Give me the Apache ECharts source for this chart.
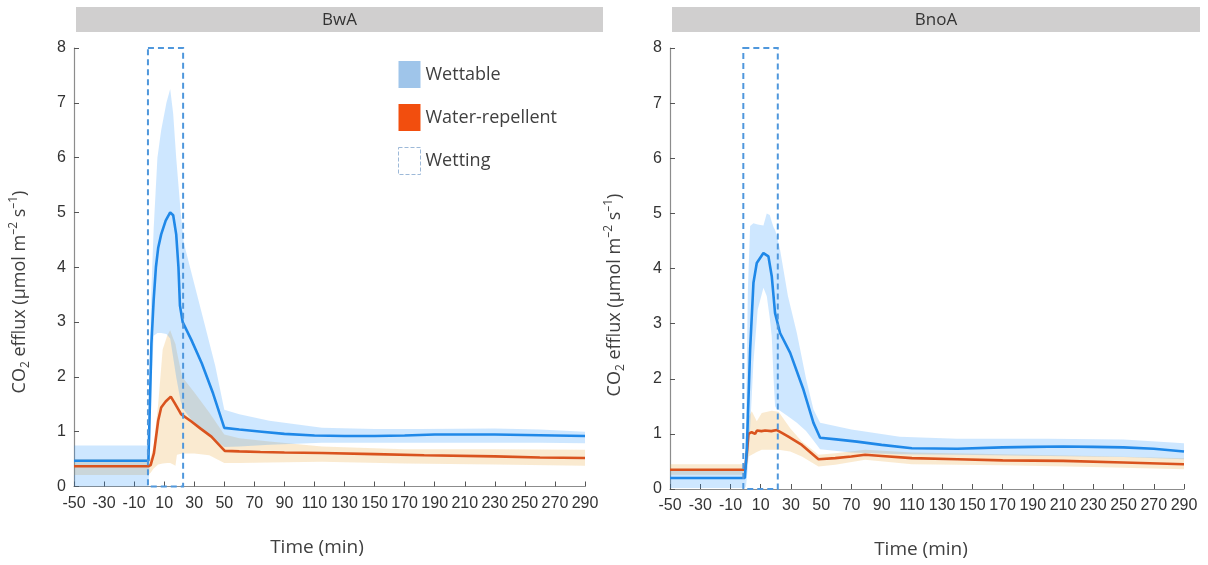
<!DOCTYPE html>
<html>
<head>
<meta charset="utf-8">
<script src="https://cdn.jsdelivr.net/npm/echarts@6/dist/echarts.min.js"></script>
<style>
  html, body { margin: 0; padding: 0; background: #fff; }
  #chart { width: 1208px; height: 565px; }
</style>
</head>
<body>
<div id="chart"></div>
<script>
// ---- BwA panel ----
const bwaWetT = [-50,-0.5,0.5,1.5,3,4.5,6,8,11,14,16,18,19.5,20.5,22.3,28,35,42.5,50,60,75,90,110,130,150,170,190,210,230,250,270,290];
const bwaWetMean = [0.47,0.47,1.5,2.6,3.4,4.0,4.35,4.6,4.85,5.0,4.95,4.6,4.0,3.3,3.0,2.68,2.25,1.70,1.07,1.04,1.0,0.96,0.93,0.92,0.92,0.93,0.95,0.95,0.95,0.94,0.93,0.92];
const bwaWetBandT = [-50,-0.5,0.5,1.5,3,5.5,8,11.5,14,16,18,21,23,30,37,44,50,60,80,115,150,180,230,260,290];
const bwaWetUpper = [0.75,0.75,2.5,3.6,4.7,6.0,6.5,7.0,7.25,6.8,6.0,5.0,4.45,3.7,2.95,2.2,1.4,1.32,1.2,1.07,1.05,1.05,1.06,1.04,1.0];
const bwaWetLower = [0,0,0.5,1.8,2.75,2.8,2.8,2.78,2.7,2.35,2.0,1.55,1.4,1.15,1.0,0.85,0.72,0.73,0.76,0.8,0.8,0.8,0.8,0.8,0.79];

const bwaRepT = [-50,-0.5,1,3.2,6,8,11,14.4,17,20,21.2,27.9,34,41.4,50.3,60,74,90,115,150,183,230,260,290];
const bwaRepMean = [0.37,0.37,0.39,0.61,1.2,1.44,1.55,1.64,1.52,1.38,1.32,1.19,1.06,0.91,0.65,0.64,0.63,0.62,0.61,0.59,0.57,0.55,0.53,0.52];
const bwaRepBandT = [-50,-0.5,1,3,6,9,12,14,16,17.5,18.5,22,30,40,50,60,80,115,170,230,290];
const bwaRepUpper = [0.5,0.5,0.52,0.75,1.5,2.5,2.75,2.85,2.7,2.6,2.45,2.0,1.72,1.35,0.95,0.88,0.82,0.73,0.68,0.68,0.67];
const bwaRepLower = [0.21,0.21,0.25,0.33,0.4,0.42,0.43,0.43,0.4,0.38,0.58,0.6,0.6,0.57,0.43,0.43,0.44,0.45,0.42,0.4,0.38];

const bwaWetting = [-0.8, 22.6];

// ---- BnoA panel ----
const bnoWetT = [-50,-0.5,0.8,3,5.2,7.4,11.8,15.1,17.3,19.5,22.8,29.5,38.3,44.9,49.3,60,73.6,90,110,140,170,190,210,230,250,270,290];
const bnoWetMean = [0.2,0.2,0.71,2.53,3.74,4.1,4.28,4.22,3.86,3.19,2.83,2.47,1.80,1.20,0.93,0.9,0.86,0.80,0.74,0.73,0.755,0.765,0.77,0.765,0.755,0.73,0.68];
const bnoWetBandT = [-50,-0.5,0.3,1.5,3,5.2,8,11.8,14,16,17.3,18.5,19.5,20.6,22.8,28,33.9,40,44.9,49.3,70,102,140,200,250,290];
const bnoWetUpper = [0.35,0.35,1.2,3.6,4.77,4.82,4.8,4.78,5.0,4.97,4.85,4.75,4.7,4.6,4.34,3.5,2.83,2.0,1.44,1.2,1.08,0.95,0.91,0.91,0.9,0.83];
const bnoWetLower = [0.02,0.02,0.05,0.4,1.1,2.3,3.25,3.65,3.5,3.1,2.77,2.0,1.5,1.45,1.42,1.32,1.2,1.05,0.88,0.72,0.66,0.63,0.62,0.6,0.58,0.54];

const bnoRepT = [-50,-0.3,1,1.9,4,6.3,7.5,8.5,10.5,12.9,17,20.7,24,28.3,37.2,48.2,59.3,70,79.1,90,110,140,170,210,250,290];
const bnoRepMean = [0.35,0.35,0.7,1.0,1.03,1.0,1.06,1.08,1.05,1.06,1.05,1.07,1.02,0.95,0.80,0.54,0.56,0.59,0.62,0.6,0.56,0.54,0.52,0.51,0.48,0.45];
const bnoRepBandT = [-50,-0.3,1,1.9,4.1,7.4,10.7,17.3,21.8,29.5,37.2,48.2,59.3,79.1,110,170,230,290];
const bnoRepUpper = [0.45,0.45,1.0,1.3,1.41,1.23,1.38,1.42,1.4,1.1,0.86,0.62,0.65,0.71,0.66,0.63,0.6,0.56];
const bnoRepLower = [0.26,0.26,0.4,0.59,0.62,0.67,0.71,0.71,0.71,0.68,0.59,0.41,0.44,0.53,0.45,0.43,0.40,0.36];

const bnoWetting = [-1.5, 21.3];

const panelTitles = ['BwA', 'BnoA'];
const seriesNames = ['Wettable', 'Water-repellent', 'Wetting'];

// ---- styling ----
const BLUE_LINE = '#1f88e8';
const ORANGE_LINE = '#d9531e';
const BLUE_FILL = 'rgba(30,144,255,0.22)';
const ORANGE_FILL = 'rgba(230,160,40,0.22)';
const DASH_COLOR = '#4f97dc';
const TEXT_COLOR = '#404040';
const AXIS_COLOR = '#8c8c8c';

const zip = (t, v) => t.map((x, i) => [x, v[i]]);

// shaded spread between a lower and an upper curve
function band(name, idx, t, up, lo, fill, z) {
  return {
    type: 'custom', name, xAxisIndex: idx, yAxisIndex: idx, z, silent: true,
    itemStyle: { color: fill },
    data: [[t[0], lo[0]]],
    renderItem(params, api) {
      const pts = [];
      for (let i = 0; i < t.length; i++) pts.push(api.coord([t[i], up[i]]));
      for (let i = t.length - 1; i >= 0; i--) pts.push(api.coord([t[i], lo[i]]));
      return { type: 'polygon', shape: { points: pts }, style: { fill } };
    }
  };
}

function meanLine(name, idx, t, v, color, z) {
  return {
    type: 'line', name, xAxisIndex: idx, yAxisIndex: idx, z, silent: true,
    data: zip(t, v), showSymbol: false, symbol: 'none',
    lineStyle: { color, width: 2.6 }, itemStyle: { color }
  };
}

// dashed frame marking the wetting period
function wettingBox(idx, win) {
  return {
    type: 'custom', name: 'Wetting', xAxisIndex: idx, yAxisIndex: idx, z: 6, silent: true,
    data: [[win[0], 0, win[1], 8]],
    renderItem(params, api) {
      const a = api.coord([api.value(0), api.value(3)]);
      const b = api.coord([api.value(2), api.value(1)]);
      return {
        type: 'rect',
        shape: { x: a[0], y: a[1], width: b[0] - a[0], height: b[1] - a[1] },
        style: { fill: 'none', stroke: DASH_COLOR, lineWidth: 2, lineDash: [6, 4] }
      };
    }
  };
}

const grids = [
  { left: 74, top: 48, width: 511, height: 438.5 },
  { left: 670, top: 48, width: 514, height: 441 }
];

const xAxes = grids.map((g, i) => ({
  type: 'value', gridIndex: i, min: -50, max: 290, interval: 20,
  axisLine: { show: true, onZero: false, lineStyle: { color: AXIS_COLOR, width: 1.2 } },
  axisTick: { show: true, inside: true, length: 5, lineStyle: { color: '#555', width: 1 } },
  axisLabel: { color: '#333', fontSize: 16, fontFamily: 'Liberation Sans', margin: 9, showMinLabel: true, showMaxLabel: true },
  splitLine: { show: false }
}));

const yAxes = grids.map((g, i) => ({
  type: 'value', gridIndex: i, min: 0, max: 8, interval: 1,
  axisLine: { show: true, onZero: false, lineStyle: { color: AXIS_COLOR, width: 1.2 } },
  axisTick: { show: true, inside: true, length: 5, lineStyle: { color: '#555', width: 1 } },
  axisLabel: { color: '#333', fontSize: 16, fontFamily: 'Liberation Sans', margin: 8 },
  splitLine: { show: false }
}));

const richY = {
  sub: { fontSize: 12, lineHeight: 12, verticalAlign: 'bottom', fill: TEXT_COLOR, fontFamily: 'Open Sans' },
  sup: { fontSize: 12, lineHeight: 12, verticalAlign: 'top', fill: TEXT_COLOR, fontFamily: 'Open Sans' }
};

function yLabel(x, y) {
  return {
    type: 'text', x, y, rotation: Math.PI / 2, silent: true,
    style: {
      text: 'CO{sub|2} efflux (µmol m{sup|–2} s{sup|–1})',
      rich: richY, fill: TEXT_COLOR, fontSize: 18, lineHeight: 24,
      fontFamily: 'Open Sans', align: 'center', verticalAlign: 'middle'
    }
  };
}

function xLabel(x, y) {
  return {
    type: 'text', x, y, silent: true,
    style: { text: 'Time (min)', fill: TEXT_COLOR, fontSize: 19, fontFamily: 'Open Sans', align: 'center', verticalAlign: 'middle' }
  };
}

function header(x, w, text) {
  return [
    { type: 'rect', shape: { x, y: 7, width: w, height: 25 }, style: { fill: '#d0cfcf' }, silent: true },
    { type: 'text', x: x + w / 2, y: 20, silent: true,
      style: { text, fill: '#333', fontSize: 17, fontFamily: 'Open Sans', align: 'center', verticalAlign: 'middle' } }
  ];
}

const option = {
  animation: false,
  backgroundColor: '#fff',
  grid: grids,
  xAxis: xAxes,
  yAxis: yAxes,
  legend: {
    orient: 'vertical', left: 393, top: 56, itemWidth: 22, itemHeight: 27, itemGap: 16,
    selectedMode: false,
    textStyle: { color: TEXT_COLOR, fontSize: 18, fontFamily: 'Open Sans' },
    data: [
      { name: seriesNames[0], icon: 'rect', itemStyle: { color: '#9fc5ea', borderWidth: 0 } },
      { name: seriesNames[1], icon: 'rect', itemStyle: { color: '#f24e0e', borderWidth: 0 } },
      { name: seriesNames[2], icon: 'rect', itemStyle: { color: '#ffffff', borderColor: '#9db9d8', borderWidth: 1, borderType: 'dashed' } }
    ]
  },
  graphic: [
    ...header(76, 527, panelTitles[0]),
    ...header(672, 528, panelTitles[1]),
    yLabel(20, 292),
    yLabel(615, 295),
    xLabel(317, 548),
    xLabel(921, 550)
  ],
  series: [
    band(seriesNames[1], 0, bwaRepBandT, bwaRepUpper, bwaRepLower, ORANGE_FILL, 1),
    band(seriesNames[0], 0, bwaWetBandT, bwaWetUpper, bwaWetLower, BLUE_FILL, 2),
    meanLine(seriesNames[1], 0, bwaRepT, bwaRepMean, ORANGE_LINE, 3),
    meanLine(seriesNames[0], 0, bwaWetT, bwaWetMean, BLUE_LINE, 4),
    wettingBox(0, bwaWetting),

    band(seriesNames[1], 1, bnoRepBandT, bnoRepUpper, bnoRepLower, ORANGE_FILL, 1),
    band(seriesNames[0], 1, bnoWetBandT, bnoWetUpper, bnoWetLower, BLUE_FILL, 2),
    meanLine(seriesNames[1], 1, bnoRepT, bnoRepMean, ORANGE_LINE, 3),
    meanLine(seriesNames[0], 1, bnoWetT, bnoWetMean, BLUE_LINE, 4),
    wettingBox(1, bnoWetting)
  ]
};

const chart = echarts.init(document.getElementById('chart'), null, { renderer: 'canvas' });
chart.setOption(option);
</script>
</body>
</html>
